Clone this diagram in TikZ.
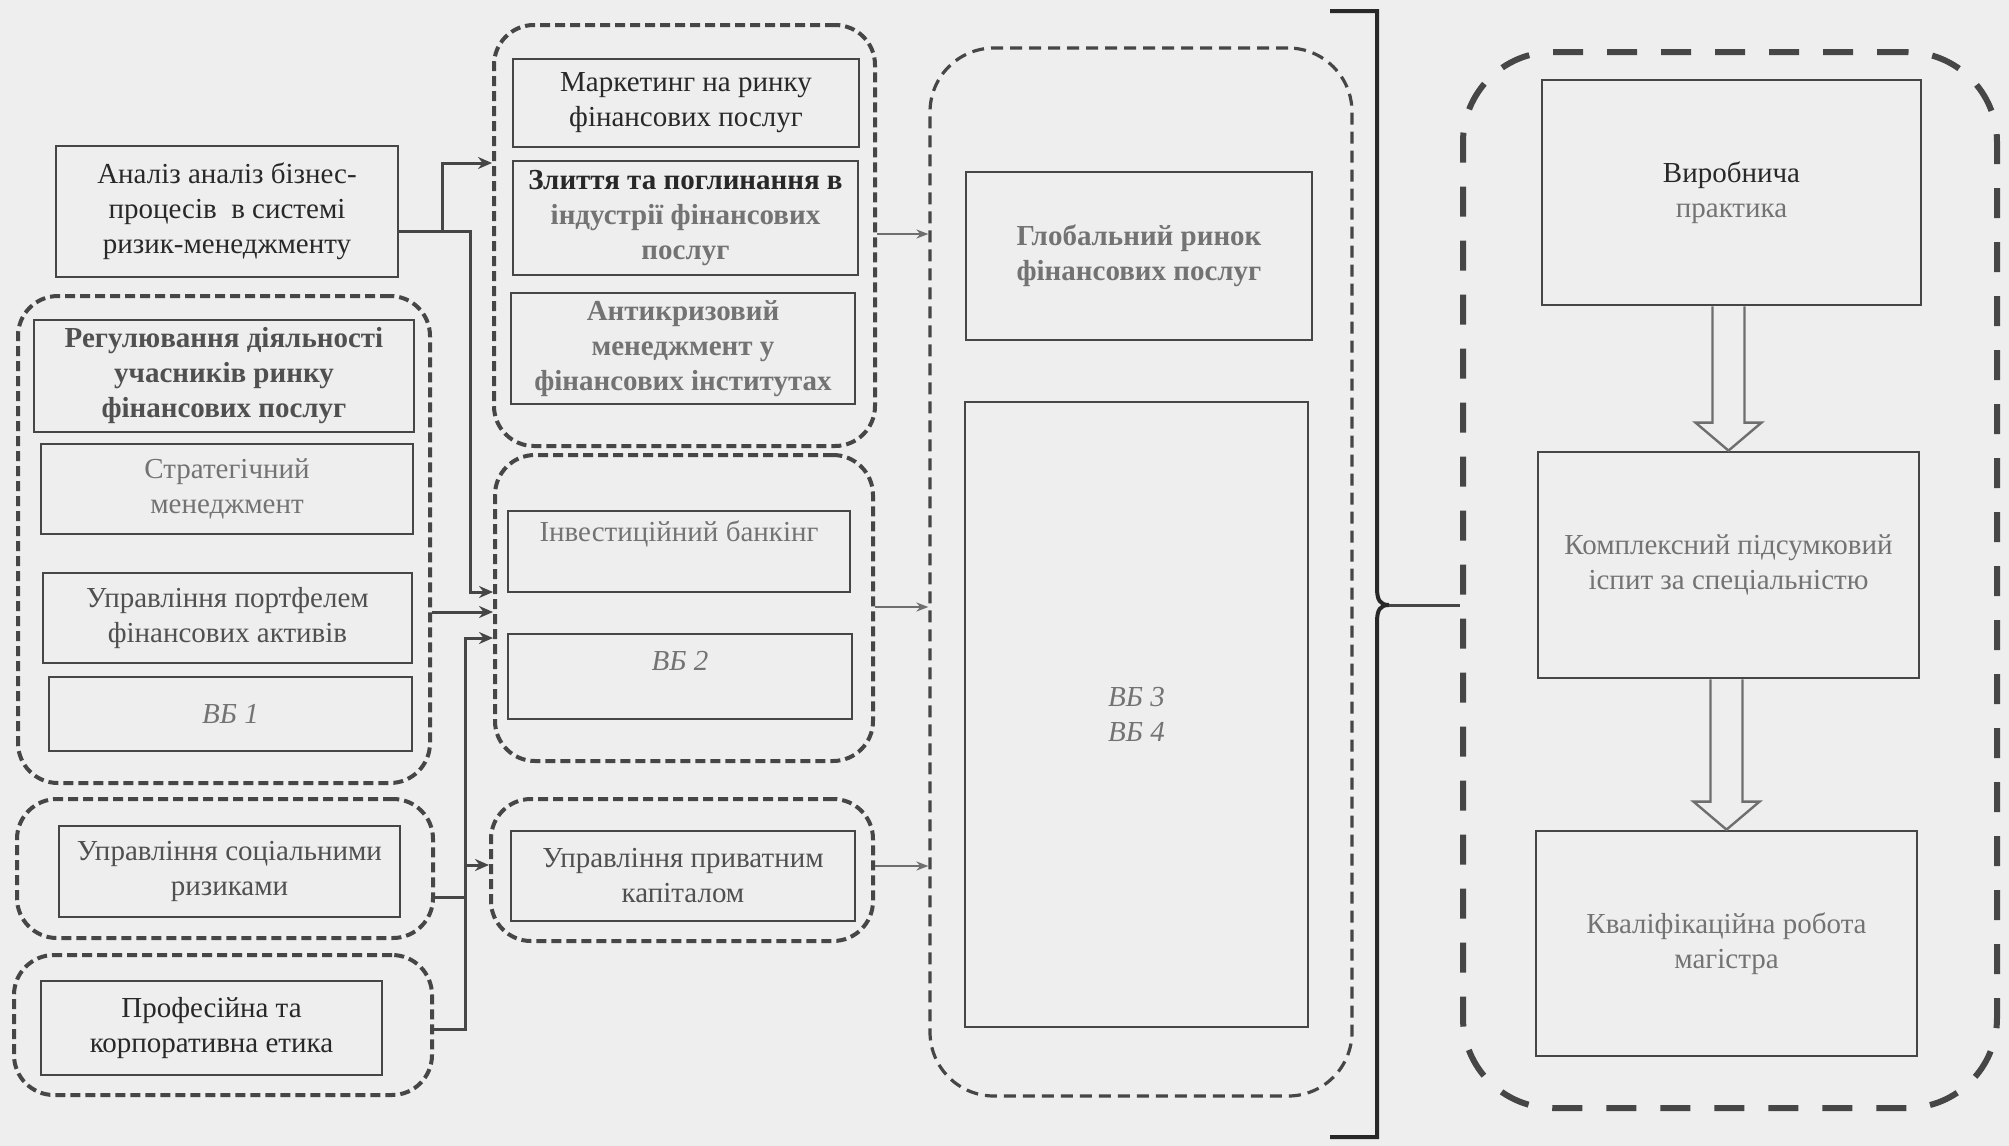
\documentclass[tikz,border=0pt]{standalone}
\usepackage{fontspec}
\setmainfont{Liberation Serif}
\usetikzlibrary{arrows.meta}
\definecolor{paper}{RGB}{238,238,238}
\definecolor{ink}{RGB}{70,70,70}
\definecolor{inklight}{RGB}{110,110,110}
\definecolor{txtdark}{RGB}{40,40,40}
\definecolor{txtmid}{RGB}{80,80,80}
\definecolor{txtlight}{RGB}{115,115,115}
\tikzset{
  box/.style={draw=ink, line width=1.4pt, inner sep=0pt, align=center,
    font=\fontsize{14.5}{17.5}\selectfont, text=txtmid},
  grp/.style={draw=ink, line width=2pt, dash pattern=on 5pt off 2.5pt,
    rounded corners=20pt, inner sep=0pt},
  midgrp/.style={draw=ink, line width=1.6pt, dash pattern=on 6pt off 3.5pt,
    rounded corners=32pt, inner sep=0pt},
  fingrp/.style={draw=ink, line width=3pt, dash pattern=on 15pt off 12pt,
    rounded corners=45pt, inner sep=0pt},
  conn/.style={draw=ink, line width=1.5pt, -{Stealth[length=7pt,width=6pt]}},
  conn2/.style={draw=inklight, line width=1.1pt, -{Stealth[length=6pt,width=4.5pt]}},
  link/.style={draw=ink, line width=1.5pt},
  brace/.style={draw=txtdark, line width=2pt},
  hollow/.style={draw=inklight, line width=1.2pt, line join=miter}
}
\begin{document}
\begin{tikzpicture}[x=0.5pt,y=-0.5pt]
\fill[paper] (0,0) rectangle (2009,1146);
\useasboundingbox (0,0) rectangle (2009,1146);

\node[box, minimum width=171pt, minimum height=65.5pt, text=txtdark] (analiz) at (227,211.5)
  {Аналіз аналіз бізнес-\\процесів\ \ в системі\\ризик-менеджменту};

\node[grp, minimum width=206pt, minimum height=243.5pt] (gReg) at (224,539.5) {};
\node[box, minimum width=190pt, minimum height=56pt, font=\fontsize{14.5}{17.5}\selectfont\bfseries] (reg) at (224,376)
  {Регулювання діяльності\\учасників ринку\\фінансових послуг};
\node[box, minimum width=186pt, minimum height=45pt, text=txtlight] (strat) at (227,489)
  {Стратегічний\\менеджмент};
\node[box, minimum width=184.5pt, minimum height=45pt] (portf) at (227.5,618)
  {Управління портфелем\\фінансових активів};
\node[box, minimum width=181.5pt, minimum height=37pt, text=txtlight] (vb1) at (230.5,714)
  {\itshape ВБ 1};

\node[grp, minimum width=208pt, minimum height=69.5pt] (gSoc) at (225,868.5) {};
\node[box, minimum width=170.5pt, minimum height=45.5pt] (soc) at (229.5,871.5)
  {Управління соціальними\\ризиками};

\node[grp, minimum width=209pt, minimum height=70pt] (gEth) at (223,1025) {};
\node[box, minimum width=170.5pt, minimum height=47pt, text=txtdark] (eth) at (211.5,1028)
  {Професійна та\\корпоративна етика};

\node[grp, minimum width=190.5pt, minimum height=210.5pt] (gMkt) at (684.5,235.5) {};
\node[box, minimum width=173pt, minimum height=44pt, text=txtdark] (mkt) at (686,103)
  {Маркетинг на ринку\\фінансових послуг};
\node[box, minimum width=172.5pt, minimum height=57pt, font=\fontsize{14.5}{17.5}\selectfont\bfseries, text=txtlight] (zlyt) at (685.5,218)
  {\textcolor{txtdark}{Злиття та поглинання в}\\індустрії фінансових\\послуг};
\node[box, minimum width=172pt, minimum height=55.5pt, font=\fontsize{14.5}{17.5}\selectfont\bfseries, text=txtlight] (anti) at (683,348.5)
  {Антикризовий\\менеджмент у\\фінансових інститутах};

\node[grp, minimum width=189pt, minimum height=153pt] (gInv) at (684,608) {};
\node[box, minimum width=171pt, minimum height=40.5pt] (inv) at (679,551.5) {};
\node[text=txtlight, font=\fontsize{14.5}{17.5}\selectfont] (invT) at (679,534) {Інвестиційний банкінг};
\node[box, minimum width=172pt, minimum height=42.5pt] (vb2) at (680,676.5) {};
\node[text=txtlight, font=\fontsize{14.5}{17.5}\selectfont\itshape] (vb2T) at (680,661) {ВБ 2};

\node[grp, minimum width=191pt, minimum height=71pt] (gCap) at (682,870) {};
\node[box, minimum width=172pt, minimum height=45pt] (cap) at (683,876)
  {Управління приватним\\капіталом};

\node[midgrp, minimum width=211pt, minimum height=524pt] (gGlob) at (1141,572) {};
\node[box, minimum width=173pt, minimum height=84pt, font=\fontsize{14.5}{17.5}\selectfont\bfseries, text=txtlight] (glob) at (1139,256)
  {Глобальний ринок\\фінансових послуг};
\node[box, minimum width=171.5pt, minimum height=312.5pt, text=txtlight, font=\fontsize{14.5}{17.5}\selectfont\itshape] (vb34) at (1136.5,714.5)
  {ВБ 3\\ВБ 4};

\node[fingrp, minimum width=267pt, minimum height=528pt] (gFin) at (1730,580) {};
\node[box, minimum width=189.5pt, minimum height=112.5pt, text=txtlight] (prak) at (1731.5,192.5)
  {\textcolor{txtdark}{Виробнича}\\практика};
\node[box, minimum width=190.5pt, minimum height=113pt, text=txtlight] (komp) at (1728.5,565)
  {Комплексний підсумковий\\іспит за спеціальністю};
\node[box, minimum width=190.5pt, minimum height=112.5pt, text=txtlight] (kval) at (1726.5,943.5)
  {Кваліфікаційна робота\\магістра};

\coordinate (aSplit) at (442,231);
\coordinate (aDrop) at (470,231);
\coordinate (mktIn) at (442,163);
\coordinate (invIn) at (470,592);
\coordinate (regOut) at (430,612);
\coordinate (ethOut) at (465,1029);
\coordinate (ethIn) at (465,638);
\coordinate (capIn) at (465,865);
\coordinate (socOut) at (465,897);
\coordinate (globIn1) at (900,234);
\coordinate (globIn2) at (900,607);
\coordinate (globIn3) at (900,866);
\coordinate (cusp) at (1389,605);

\draw[conn] (analiz.east |- aSplit) -- (aSplit) |- (gMkt.west |- mktIn);
\draw[conn] (aSplit) -- (aDrop) |- (gInv.west |- invIn);
\draw[conn] (gReg.east |- regOut) -- (gInv.west |- regOut);
\draw[conn] (gEth.east |- ethOut) -- (ethOut) |- (gInv.west |- ethIn);
\draw[conn] (capIn) -- (gCap.west |- capIn);
\draw[link] (gSoc.east |- socOut) -- (socOut);

\draw[conn2] (gMkt.east |- globIn1) -- (gGlob.west |- globIn1);
\draw[conn2] (gInv.east |- globIn2) -- (gGlob.west |- globIn2);
\draw[conn2] (gCap.east |- globIn3) -- (gGlob.west |- globIn3);

\draw[brace] (1330,11) -- (1377,11) -- (1377,588)
  .. controls (1377,600) and (1380,605) .. (cusp)
  .. controls (1380,605) and (1377,610) .. (1377,622) -- (1377,1137) -- (1330,1137);
\draw[link] (cusp) -- (gFin.west |- cusp);

\foreach \a/\b in {prak/komp, komp/kval}
  \draw[hollow] ([xshift=-8pt]\b.north |- \a.south) -- ([xshift=-8pt,yshift=14pt]\b.north)
    -- ([xshift=-16.5pt,yshift=14pt]\b.north) -- (\b.north)
    -- ([xshift=16.5pt,yshift=14pt]\b.north) -- ([xshift=8pt,yshift=14pt]\b.north)
    -- ([xshift=8pt]\b.north |- \a.south);

\end{tikzpicture}
\end{document}
